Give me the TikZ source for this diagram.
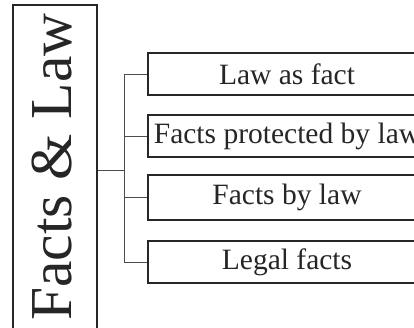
\documentclass[tikz,border=0pt]{standalone}
\usepackage{fontspec}
\setmainfont{Liberation Serif}
\begin{document}
\begin{tikzpicture}[x=1pt,y=-1pt,
  frame/.style={draw=black!85,line width=1.6pt},
  itembox/.style={frame,minimum width=278pt,minimum height=42pt,inner sep=0pt,
    font=\fontsize{29.5}{31}\selectfont,text=black!85},
  conn/.style={draw=black!70,line width=0.9pt}]
\useasboundingbox (0,0) rectangle (414,328);
\clip (0,0) rectangle (414,328);
\fill[white] (0,0) rectangle (414,328);
\node[frame,minimum width=84pt,minimum height=326pt,inner sep=0pt] (main) at (55,168) {};
\node[rotate=90,anchor=base west,inner sep=0pt,text=black!85,
  font=\fontsize{59.5}{61}\selectfont] (title) at (71.5,321) {Facts \& Law};
\node[itembox] (b1) at (287,74) {Law as fact};
\node[itembox] (b2) at (287,136) {Facts protected by law};
\node[itembox,minimum height=45pt] (b3) at (287,197.5) {Facts by law};
\node[itembox] (b4) at (287,262) {Legal facts};
\draw[conn] (main.east |- 0,170) -- ++(27,0) coordinate (j);
\draw[conn] (j) |- (b1.west);
\draw[conn] (j) |- (b2.west);
\draw[conn] (j) |- (b3.west);
\draw[conn] (j) |- (b4.west);
\end{tikzpicture}
\end{document}
